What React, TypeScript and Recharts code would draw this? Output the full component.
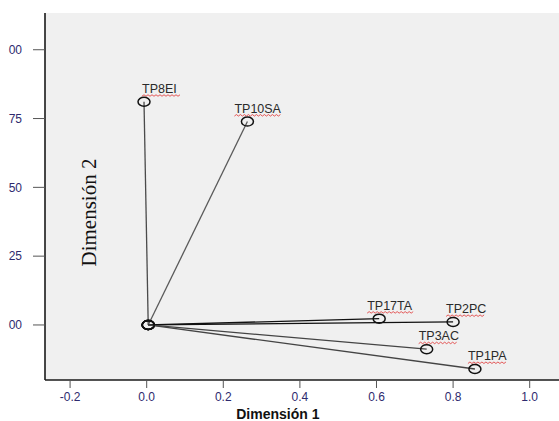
import { ScatterChart, Scatter, XAxis, YAxis, CartesianGrid } from "recharts"

// category labels + coordinates
const labels = ["TP8EI", "TP10SA", "TP17TA", "TP2PC", "TP3AC", "TP1PA"]
const dim1 = [-0.007, 0.263, 0.607, 0.8, 0.731, 0.857]
const dim2 = [0.811, 0.739, 0.023, 0.011, -0.088, -0.16]
const origin = { x: 0.004, y: 0 }

const xTicks = [-0.2, 0.0, 0.2, 0.4, 0.6, 0.8, 1.0]
const yTicks = [0, 0.25, 0.5, 0.75, 1.0]
const yTickText = ["00", "25", "50", "75", "00"] // the left side of the labels is cut off in the original

// small per-label tweaks so the text sits where it did
const labelDx = [-2, -13, -12, -7, -8, -7]
const lineColors = ["#4a4a4a", "#5a5a5a", "#111", "#111", "#444", "#444"]

const tickFont = { fontSize: 12, fill: "#2e2a6e", fontFamily: "'Liberation Sans', Arial, sans-serif" }

// wavy red spell-check underline under the labels
const squiggle = (x: number, y: number, w: number) => {
  let d = `M${x},${y}`
  for (let i = 0, up = true; i < w; i += 2, up = !up) d += ` L${x + i + 2},${y + (up ? -1.5 : 0)}`
  return d
}

const PointShape = (props: any) => {
  const { cx, cy, payload, idx } = props
  if (cx == null || cy == null) return null
  const name = payload?.name
  const tx = cx + (labelDx[idx] ?? -8)
  const ty = cy - 9
  const w = name ? name.length * 7.6 : 0
  return (
    <g>
      <ellipse cx={cx} cy={cy} rx={6} ry={4.5} fill="none" stroke="#111" strokeWidth={1.5} />
      {name && (
        <>
          <text x={tx} y={ty} fontSize={12.5} fill="#2a2a2a" fontFamily="'Liberation Sans', Arial, sans-serif">
            {name}
          </text>
          <path d={squiggle(tx, ty + 3.5, w)} stroke="#e03030" strokeWidth={0.8} fill="none" />
        </>
      )}
    </g>
  )
}

export default function App() {
  const series = labels.map((name, i) => [origin, { x: dim1[i], y: dim2[i], name }])

  return (
    <div style={{ position: "absolute", left: 0, top: 0, width: 559, height: 421, background: "#fff" }}>
      <ScatterChart width={559} height={421} margin={{ top: 13, right: 0, left: 0, bottom: 0 }}>
        <CartesianGrid horizontal={false} vertical={false} fill="#f0f0f0" stroke="none" />

        <XAxis
          dataKey="x"
          type="number"
          domain={[-0.2655, 1.0765]}
          ticks={xTicks}
          tickFormatter={(v) => v.toFixed(1)}
          allowDataOverflow
          height={41}
          tickSize={8}
          tickMargin={4}
          tick={tickFont}
          axisLine={{ stroke: "#1a1a1a", strokeWidth: 1.6 }}
          tickLine={{ stroke: "#555" }}
          label={({ viewBox }: any) => (
            <text
              x={viewBox.x + viewBox.width * 0.453}
              y={viewBox.y + 39}
              textAnchor="middle"
              fontSize={14}
              fontWeight="bold"
              fill="#111"
              fontFamily="'Liberation Sans', Arial, sans-serif"
            >
              Dimensión 1
            </text>
          )}
        />
        {/* top border of the frame */}
        <XAxis
          xAxisId="top"
          orientation="top"
          type="number"
          domain={[0, 1]}
          height={0}
          tick={false}
          tickLine={false}
          axisLine={{ stroke: "#1a1a1a", strokeWidth: 1.4 }}
        />
        <YAxis
          dataKey="y"
          type="number"
          domain={[-0.2, 1.1335]}
          ticks={yTicks}
          tickFormatter={(v) => yTickText[yTicks.indexOf(v)] ?? ""}
          allowDataOverflow
          width={45}
          tickSize={12}
          tickMargin={11}
          tick={tickFont}
          axisLine={{ stroke: "#1a1a1a", strokeWidth: 1.6 }}
          tickLine={{ stroke: "#555" }}
          label={({ viewBox }: any) => {
            const x = viewBox.x + viewBox.width + 51
            const y = viewBox.y + viewBox.height / 2 + 16
            return (
              <text
                x={x}
                y={y}
                transform={`rotate(-90, ${x}, ${y})`}
                textAnchor="middle"
                fontSize={21}
                fill="#111"
                fontFamily="'Liberation Serif', 'Times New Roman', serif"
              >
                Dimensión 2
              </text>
            )
          }}
        />

        {series.map((pts, i) => (
          <Scatter
            key={labels[i]}
            data={pts}
            line={{ stroke: lineColors[i], strokeWidth: 1.3 }}
            lineType="joint"
            shape={(p: any) => <PointShape {...p} idx={i} />}
            isAnimationActive={false}
          />
        ))}
      </ScatterChart>
    </div>
  )
}
